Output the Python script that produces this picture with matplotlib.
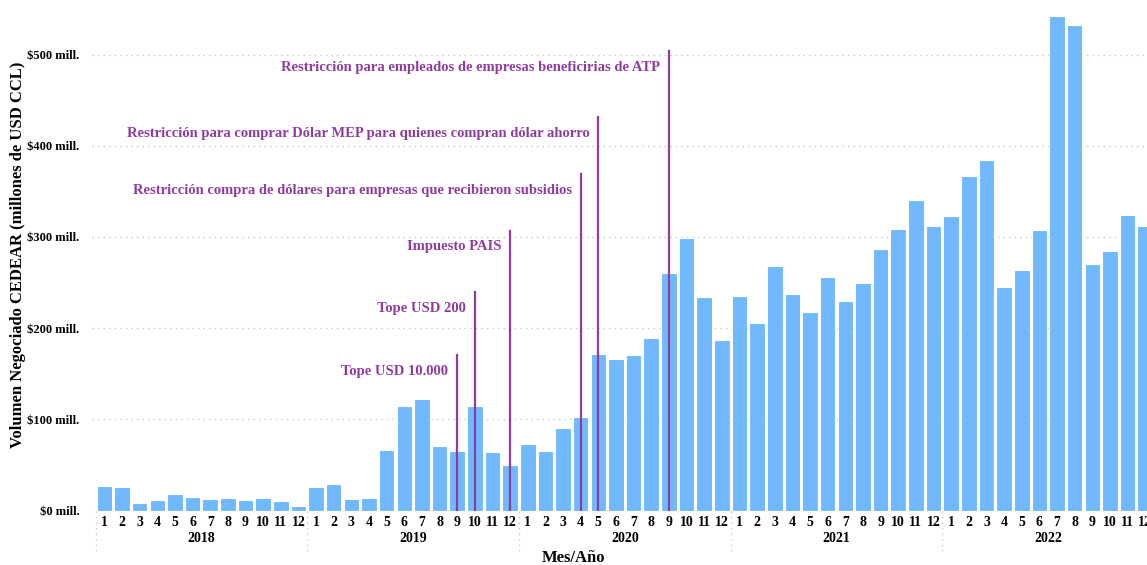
import matplotlib.pyplot as plt
import numpy as np
import matplotlib.transforms as mtransforms

plt.rcParams['font.family'] = ['Liberation Serif', 'DejaVu Serif']

# volumen mensual CEDEAR (millones USD CCL), ene-2018 a dic-2022
years = ['2018', '2019', '2020', '2021', '2022']
months = [str(m) for m in range(1, 13)]
v2018 = [27, 26, 8.5, 12, 18, 15, 12.5, 13.5, 11.3, 13.5, 10.6, 4.7]
v2019 = [26, 29.5, 13, 13.5, 66, 115, 122, 71, 65, 115, 64, 50]
v2020 = [73, 65, 91, 103, 172, 166, 170.5, 189, 260.5, 299, 234, 187]
v2021 = [235, 205.6, 268.4, 237.7, 217.3, 256, 230, 249.8, 286.4, 308.3, 340.8, 311.6]
v2022 = [323, 366.8, 384.3, 245.4, 263.7, 308, 542, 532.5, 270.5, 285, 323.7, 312]
values = v2018 + v2019 + v2020 + v2021 + v2022

# eventos: (indice de mes, altura de la linea, texto)
event_idx = [20, 21, 23, 27, 28, 32]
event_top = [170, 240, 307, 369, 431, 504]
event_text = ['Tope USD 10.000', 'Tope USD 200', 'Impuesto PAIS',
              'Restricción compra de dólares para empresas que recibieron subsidios',
              'Restricción para comprar Dólar MEP para quienes compran dólar ahorro',
              'Restricción para empleados de empresas beneficirias de ATP']

bar_color = '#71b9ff'
purple = '#8e3d9f'

fig = plt.figure(figsize=(11.47, 5.65), dpi=100)
ax = fig.add_axes([92 / 1147, 54.5 / 565, 1055 / 1147, 510.5 / 565])

x = np.arange(len(values))
ax.bar(x, values, width=0.88, color=bar_color, edgecolor='white', linewidth=0.8, zorder=2)

ax.set_xlim(-0.7, 59.1)
ax.set_ylim(0, 559.8)
ax.set_yticks(np.arange(0, 501, 100))
ax.set_yticklabels(['$%d mill.' % v for v in range(0, 501, 100)], fontsize=9, fontweight='bold')
ax.yaxis.grid(True, linestyle=(0, (1, 3)), color='#c8c8c8', linewidth=1, zorder=0)
ax.set_axisbelow(True)

ax.set_xticks(x)
ax.set_xticklabels(months * len(years), fontsize=10, fontweight='bold')
ax.tick_params(axis='both', length=0)
ax.tick_params(axis='x', pad=4)
ax.tick_params(axis='y', pad=9)
for s in ax.spines.values():
    s.set_visible(False)

# segundo nivel del eje x: años y separadores
trans = mtransforms.blended_transform_factory(ax.transData, ax.transAxes)
for i, yr in enumerate(years):
    ax.text(i * 12 + 5.5, -0.055, yr, transform=trans, ha='center', va='center',
            fontsize=10, fontweight='bold')
    ax.plot([i * 12 - 0.5] * 2, [0, -0.08], transform=trans, clip_on=False,
            linestyle=(0, (1, 3)), color='#c8c8c8', linewidth=1)

fig.text(0.5, 7 / 565, 'Mes/Año', ha='center', va='center',
         fontsize=12, fontweight='bold')
ax.set_ylabel('Volumen Negociado CEDEAR (millones de USD CCL)', fontsize=12, fontweight='bold')
ax.yaxis.set_label_coords(-0.063, 0.5)

# lineas de eventos
for idx, top, txt in zip(event_idx, event_top, event_text):
    ax.plot([idx, idx], [0, top], color=purple, linewidth=1.6, zorder=3)
    ax.text(idx - 0.5, top - 18, txt, ha='right', va='center', color=purple,
            fontsize=10.5, fontweight='bold', zorder=4)

fig.savefig('out.png', dpi=100)
